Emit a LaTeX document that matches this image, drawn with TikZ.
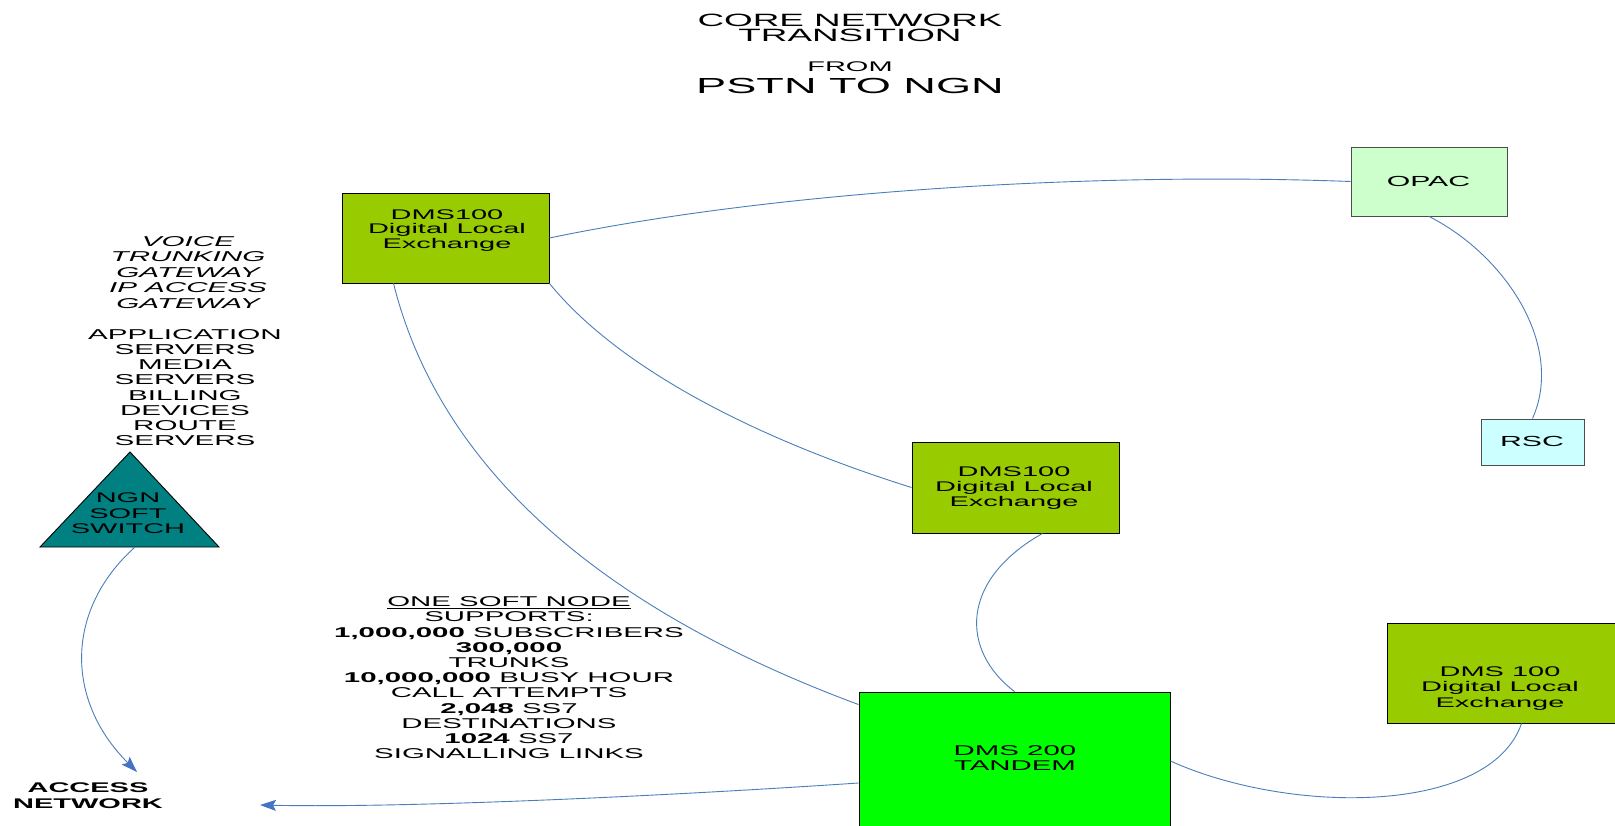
\documentclass[tikz,border=0pt]{standalone}
\usepackage{fontspec}
\setmainfont{Liberation Sans}[FakeStretch=2.07]
\usetikzlibrary{arrows.meta,calc}
\definecolor{boxolive}{HTML}{99CC00}
\definecolor{boxmint}{HTML}{CCFFCC}
\definecolor{boxcyan}{HTML}{CCFFFF}
\definecolor{boxgreen}{HTML}{00FF00}
\definecolor{triteal}{HTML}{008080}
\definecolor{linkblue}{HTML}{4A7EBB}
\definecolor{tipblue}{HTML}{4472C4}
\newcommand\myfs[2]{\fontsize{#1}{#2}\selectfont}
\begin{document}
\begin{tikzpicture}[x=1pt,y=-1pt,
  conn/.style={draw=linkblue, line width=0.9pt},
  tip/.style={-{Stealth[length=16pt,width=11pt,inset=3pt,color=tipblue]}},
  box/.style={draw=black, line width=0.9pt, inner sep=0pt, anchor=center},
  lbl/.style={inner sep=0pt, align=center, anchor=base},
  ]
\useasboundingbox (0,0) rectangle (1615,825);
\fill[white] (0,0) rectangle (1615,825);

% boxes
\node[box, fill=boxolive, minimum width=207pt, minimum height=90pt] (A) at (445.5,238) {};
\node[box, fill=boxmint, draw=black!70, minimum width=156pt, minimum height=69pt] (OPAC) at (1429,181.5) {};
\node[box, fill=boxcyan, draw=black!70, minimum width=103pt, minimum height=46pt] (RSC) at (1532.5,442) {};
\node[box, fill=boxolive, minimum width=207pt, minimum height=91pt] (B) at (1015.5,487.5) {};
\node[box, fill=boxgreen, minimum width=311pt, minimum height=138pt] (C) at (1014.5,761) {};
\node[box, fill=boxolive, minimum width=233pt, minimum height=100pt] (D) at (1503.5,673) {};

% triangle
\coordinate (triL) at (40,547);
\coordinate (triT) at (130,452);
\coordinate (triR) at (219,547);
\coordinate (triB) at (135,547);
\draw[fill=triteal, line width=0.9pt] (triL) -- (triT) -- (triR) -- cycle;

% box texts (anchor = baseline of the last line)
\node[lbl, font=\myfs{14}{14.5}] (tA) at (447,248.3) {DMS100\\Digital Local\\Exchange};
\node[lbl, font=\myfs{14.6}{15}] (tOPAC) at (1428.5,186) {OPAC};
\node[lbl, font=\myfs{14.6}{15}] (tRSC) at (1532,446.7) {RSC};
\node[lbl, font=\myfs{14}{15}] (tB) at (1014,506) {DMS100\\Digital Local\\Exchange};
\node[lbl, font=\myfs{14.2}{15}] (tC) at (1015,770) {DMS 200\\TANDEM};
\node[lbl, font=\myfs{14}{15.6}] (tD) at (1500,707.2) {DMS 100\\Digital Local\\Exchange};
\node[lbl, font=\myfs{14}{15.3}] (ngn) at (128,533.3) {NGN\\SOFT\\SWITCH};

% titles
\node[lbl, font=\myfs{17.8}{15.7}] (title) at (850,41.7) {CORE NETWORK\\TRANSITION};
\node[lbl, font=\myfs{14}{15}] (from) at (850,71) {FROM};
\node[lbl, font=\myfs{21.8}{22}] (pstn) at (850,93.3) {PSTN TO NGN};

% left lists
\node[lbl, font=\myfs{14.3}{15.5}\itshape] (voice) at (188,308) {VOICE\\TRUNKING\\GATEWAY\\IP ACCESS\\GATEWAY};
\node[lbl, font=\myfs{14.3}{15.2}] (apps) at (185,445.7) {APPLICATION\\SERVERS\\MEDIA\\SERVERS\\BILLING\\DEVICES\\ROUTE\\SERVERS};
\node[lbl, font=\myfs{14.2}{15.2}] (soft) at (509,758.7) {\underline{ONE SOFT NODE}\\SUPPORTS:\\\textbf{1,000,000} SUBSCRIBERS\\\textbf{300,000}\\TRUNKS\\\textbf{10,000,000} BUSY HOUR\\CALL ATTEMPTS\\\textbf{2,048} SS7\\DESTINATIONS\\\textbf{1024} SS7\\SIGNALLING LINKS};
\node[lbl, font=\myfs{14}{15.6}\bfseries] (access) at (88,808.3) {ACCESS\\NETWORK};

% connectors
\coordinate (accR) at (260,805);
\coordinate (accT) at (137,772);
\draw[conn] (A.east) .. controls (780,190) and (1100,172) .. (OPAC.west);
\draw[conn] (OPAC.south) .. controls (1505,255) and (1565,345) .. (RSC.north);
\draw[conn] (A.south east) .. controls (620,370) and (760,440) .. (B.west);
\draw[conn] ($(A.south west)!0.25!(A.south east)$) .. controls (430,430) and (550,590) .. ([yshift=-13pt]C.north west);
\draw[conn] ([xshift=27pt]B.south) .. controls (960,580) and (960,650) .. (C.north);
\draw[conn] (C.east) .. controls (1290,815) and (1490,815) .. ([xshift=18pt]D.south);
\draw[conn, tip] ([yshift=-22pt]C.west) .. controls (650,797) and (400,808) .. (accR);
\draw[conn, tip] (triB) .. controls (65,610) and (65,700) .. (accT);
\end{tikzpicture}
\end{document}
